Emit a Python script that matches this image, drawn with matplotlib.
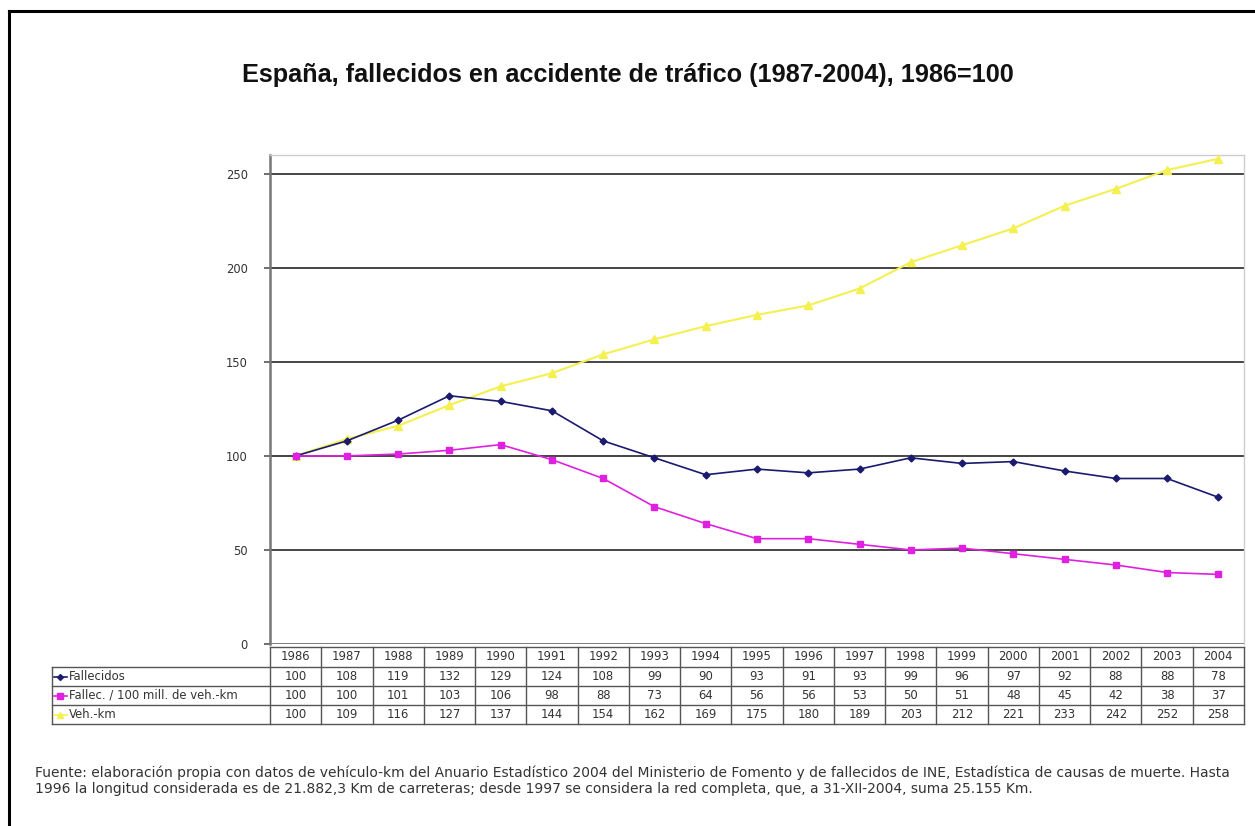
import matplotlib
matplotlib.use("Agg")
import matplotlib.pyplot as plt
from matplotlib.lines import Line2D

plt.rcParams['font.family'] = ['Liberation Sans', 'DejaVu Sans']

years = ["1986", "1987", "1988", "1989", "1990", "1991", "1992", "1993", "1994", "1995",
         "1996", "1997", "1998", "1999", "2000", "2001", "2002", "2003", "2004"]
fallecidos = [100, 108, 119, 132, 129, 124, 108, 99, 90, 93, 91, 93, 99, 96, 97, 92, 88, 88, 78]
fallec_vehkm = [100, 100, 101, 103, 106, 98, 88, 73, 64, 56, 56, 53, 50, 51, 48, 45, 42, 38, 37]
veh_km = [100, 109, 116, 127, 137, 144, 154, 162, 169, 175, 180, 189, 203, 212, 221, 233, 242, 252, 258]
series_names = ["Fallecidos", "Fallec. / 100 mill. de veh.-km", "Veh.-km"]
yticks = [0, 50, 100, 150, 200, 250]

title = "España, fallecidos en accidente de tráfico (1987-2004), 1986=100"
note = ("Fuente: elaboración propia con datos de vehículo-km del Anuario Estadístico 2004 del Ministerio de Fomento y de fallecidos de INE, Estadística de causas de muerte. Hasta\n"
        "1996 la longitud considerada es de 21.882,3 Km de carreteras; desde 1997 se considera la red completa, que, a 31-XII-2004, suma 25.155 Km.")

W, H = 1255, 826
fig = plt.figure(figsize=(W / 100, H / 100), dpi=100)

def fx(px):
    return px / W

def fy(py):
    return 1 - py / H

# outer frame (left and top only)
fig.add_artist(Line2D([fx(9), fx(9)], [fy(11), 0], color='black', lw=2.2, transform=fig.transFigure))
fig.add_artist(Line2D([fx(9), 1], [fy(11), fy(11)], color='black', lw=2.2, transform=fig.transFigure))

fig.text(fx(628), fy(75), title, ha='center', va='center', fontsize=18.2, fontweight='bold', color='#111111')

L, R, T, B = 270, 1244, 155, 644
ax = fig.add_axes([fx(L), fy(B), fx(R) - fx(L), fy(T) - fy(B)])
n = len(years)
x = list(range(n))
ax.set_xlim(-0.5, n - 0.5)
ax.set_ylim(0, 260)
ax.set_yticks(yticks)
ax.set_yticklabels([str(v) for v in yticks], fontsize=8.3, color='#333333', family='DejaVu Sans')
ax.set_xticks([])
for v in yticks[1:]:
    ax.axhline(v, color='#444444', lw=1.4, zorder=1)
ax.axhline(0, color='#666666', lw=1.2, zorder=1)
ax.spines['left'].set_color('#777777')
ax.spines['left'].set_linewidth(1.8)
for s in ['top', 'right']:
    ax.spines[s].set_color('#cccccc')
    ax.spines[s].set_linewidth(1.0)
ax.spines['bottom'].set_visible(False)
ax.tick_params(axis='y', length=4, width=1.2, color='#555555', pad=12)

c_f = '#1a1a6e'
c_m = '#e020e0'
c_y = '#f4f050'
ax.plot(x, veh_km, color=c_y, lw=1.5, marker='^', ms=6, mec=c_y, mfc=c_y, zorder=3)
ax.plot(x, fallecidos, color=c_f, lw=1.2, marker='D', ms=3.5, mec=c_f, mfc=c_f, zorder=4)
ax.plot(x, fallec_vehkm, color=c_m, lw=1.2, marker='s', ms=4.5, mec=c_m, mfc=c_m, zorder=4)

# data table below the axis
row_top = [647, 667, 686, 705, 724]
lab_left = 52
colw = (R - L) / n
tcol = '#555555'
tlw = 1.0
tfs = 8.4

def hline(x0, x1, y):
    fig.add_artist(Line2D([fx(x0), fx(x1)], [fy(y), fy(y)], color=tcol, lw=tlw, transform=fig.transFigure))

def vline(xp, y0, y1):
    fig.add_artist(Line2D([fx(xp), fx(xp)], [fy(y0), fy(y1)], color=tcol, lw=tlw, transform=fig.transFigure))

hline(L, R, row_top[0])
for yy in row_top[1:]:
    hline(lab_left, R, yy)
vline(lab_left, row_top[1], row_top[4])
for i in range(n + 1):
    vline(L + i * colw, row_top[0], row_top[4])

for i, yr in enumerate(years):
    cx = L + (i + 0.5) * colw
    fig.text(fx(cx), fy((row_top[0] + row_top[1]) / 2), yr, ha='center', va='center',
             fontsize=tfs, color='#333333', family='DejaVu Sans')

rows = [fallecidos, fallec_vehkm, veh_km]
styles = [(c_f, 'D', 3.0), (c_m, 's', 4.0), (c_y, '^', 5.0)]
for r, (vals, name, (col, mk, ms)) in enumerate(zip(rows, series_names, styles)):
    yc = (row_top[r + 1] + row_top[r + 2]) / 2
    fig.add_artist(Line2D([fx(54), fx(67)], [fy(yc), fy(yc)], color=col, lw=1.2, transform=fig.transFigure))
    fig.add_artist(Line2D([fx(60)], [fy(yc)], color=col, marker=mk, ms=ms, mec=col, mfc=col, transform=fig.transFigure))
    fig.text(fx(69), fy(yc), name, ha='left', va='center', fontsize=tfs, color='#333333', family='DejaVu Sans')
    for i, v in enumerate(vals):
        cx = L + (i + 0.5) * colw
        fig.text(fx(cx), fy(yc), str(v), ha='center', va='center', fontsize=tfs, color='#333333',
                 family='DejaVu Sans')

fig.text(fx(35), fy(781), note, ha='left', va='center', fontsize=10.0, color='#333333',
         linespacing=1.2, family='DejaVu Sans')

fig.savefig("out.png", dpi=100, facecolor='white')
